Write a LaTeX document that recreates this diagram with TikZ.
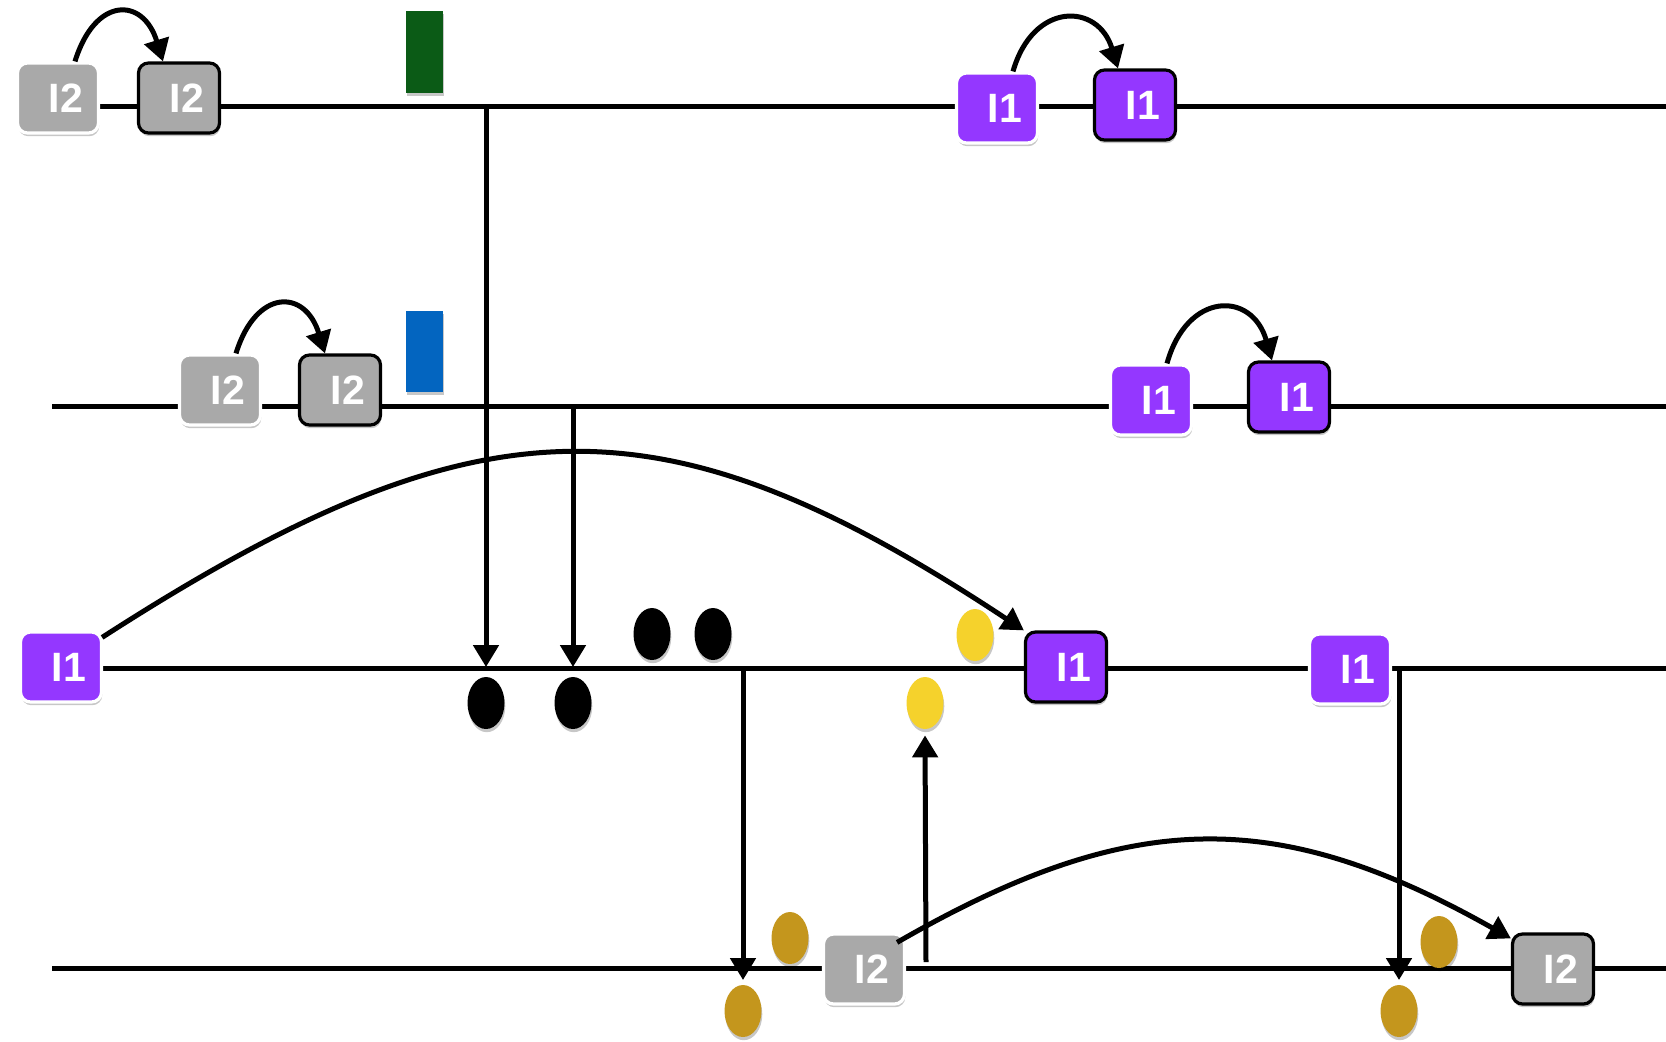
\documentclass[tikz,border=0pt]{standalone}
\usepackage{fontspec}
\setmainfont{Liberation Sans}
\usetikzlibrary{arrows.meta,shapes.geometric,shadows,calc}
\definecolor{boxgray}{HTML}{A9A9A9}
\definecolor{boxpurple}{HTML}{9437FF}
\definecolor{bargreen}{HTML}{0B5B16}
\definecolor{barblue}{HTML}{0365C0}
\definecolor{dotyellow}{HTML}{F5D22C}
\definecolor{dotgold}{HTML}{C4961D}
\begin{document}
\begin{tikzpicture}[x=0.5pt,y=-0.5pt,
  softshadow/.style={drop shadow={shadow xshift=0.4pt,shadow yshift=-1.6pt,opacity=0.22,fill=black}},
  box/.style={rectangle,rounded corners=5pt,minimum width=40.5pt,minimum height=35pt,
    inner sep=0pt,text=white,font=\fontsize{20.5}{24}\selectfont\bfseries,line width=1.6pt,softshadow},
  itwo/.style={box,fill=boxgray},
  ione/.style={box,fill=boxpurple},
  srcbox/.style={draw=white},
  dstbox/.style={draw=black},
  dot/.style={ellipse,minimum width=18.5pt,minimum height=26pt,inner sep=0pt,softshadow},
  bar/.style={rectangle,minimum width=18.5pt,inner sep=0pt,softshadow},
  track/.style={line width=2.5pt},
  conn/.style={line width=2.5pt,-{Triangle[length=11pt,width=12.5pt]}}]
\useasboundingbox (0,0) rectangle (1666,1041);

% track end points
\coordinate (t1s) at (100,106);  \coordinate (t1e) at (1666,106);
\coordinate (t2s) at (52,406);   \coordinate (t2e) at (1666,406);
\coordinate (t3s) at (103,668);  \coordinate (t3e) at (1666,668);
\coordinate (t4s) at (52,968);   \coordinate (t4e) at (1666,968);
\draw[track] (t1s) -- (t1e);
\draw[track] (t2s) -- (t2e);
\draw[track] (t3s) -- (t3e);
\draw[track] (t4s) -- (t4e);

% bars
\node[bar,fill=bargreen,minimum height=41pt] (green) at (424.5,52) {};
\node[bar,fill=barblue,minimum height=40.5pt] (blue) at (424.5,351.5) {};

% boxes
\node[itwo,srcbox] (a1) at (58,98) {\hspace*{8pt}I2};
\node[itwo,dstbox] (a2) at (179,98) {\hspace*{8pt}I2};
\node[ione,srcbox] (a3) at (997,108) {\hspace*{8pt}I1};
\node[ione,dstbox] (a4) at (1135,105) {\hspace*{8pt}I1};

\node[itwo,srcbox] (b1) at (220,390) {\hspace*{8pt}I2};
\node[itwo,dstbox] (b2) at (340,390) {\hspace*{8pt}I2};
\node[ione,srcbox] (b3) at (1151,400) {\hspace*{8pt}I1};
\node[ione,dstbox] (b4) at (1289,397) {\hspace*{8pt}I1};

\node[ione,srcbox] (c1) at (61,667) {\hspace*{8pt}I1};
\node[ione,dstbox] (c2) at (1066,667) {\hspace*{8pt}I1};
\node[ione,srcbox] (c3) at (1350,669) {\hspace*{8pt}I1};

\node[itwo,srcbox] (d1) at (864,969) {\hspace*{8pt}I2};
\node[itwo,dstbox] (d2) at (1553,969) {\hspace*{8pt}I2};

% dots
\node[dot,fill=black] (k1) at (486,703) {};
\node[dot,fill=black] (k2) at (573,703) {};
\node[dot,fill=black] (k3) at (652,634) {};
\node[dot,fill=black] (k4) at (713,634) {};
\node[dot,fill=dotyellow] (y1) at (975,635) {};
\node[dot,fill=dotyellow] (y2) at (925,703) {};
\node[dot,fill=dotgold] (g1) at (743,1011) {};
\node[dot,fill=dotgold] (g2) at (790,938) {};
\node[dot,fill=dotgold] (g3) at (1439,942) {};
\node[dot,fill=dotgold] (g4) at (1399,1011) {};

% vertical arrows
\coordinate (v1t) at (486,106);  \coordinate (v1b) at (486,667);
\coordinate (v2t) at (573,406);  \coordinate (v2b) at (573,667);
\coordinate (v3t) at (743,668);  \coordinate (v3b) at (743,980);
\coordinate (v4t) at (1399,668); \coordinate (v4b) at (1399,980);
\coordinate (v5b) at (926,962);
\draw[conn] (v1t) -- (v1b);
\draw[conn] (v2t) -- (v2b);
\draw[conn] (v3t) -- (v3b);
\draw[conn] (v4t) -- (v4b);
\draw[conn,shorten >=3pt] (v5b) -- (y2.south);

% small hops
\draw[conn] ($(a1.north)+(17,0)$) .. controls +(20,-65) and +(-20,-65) .. ($(a2.north)+(-16,0)$);
\draw[conn] ($(a3.north)+(16,0)$) .. controls +(20,-70) and +(-20,-66) .. ($(a4.north)+(-17,0)$);
\draw[conn] ($(b1.north)+(16,0)$) .. controls +(20,-65) and +(-20,-65) .. ($(b2.north)+(-15,0)$);
\draw[conn] ($(b3.north)+(16,0)$) .. controls +(20,-72) and +(-20,-70) .. ($(b4.north)+(-17,0)$);

% long arcs
\draw[conn] ($(c1.north east)+(-1,7)$) .. controls +(380,-245) and +(-360,-238) .. (c2.north west);
\draw[conn] ($(d1.north east)+(-9,10)$) .. controls +(234,-135) and +(-234,-132) .. ($(d2.north west)+(0,6)$);
\end{tikzpicture}
\end{document}
